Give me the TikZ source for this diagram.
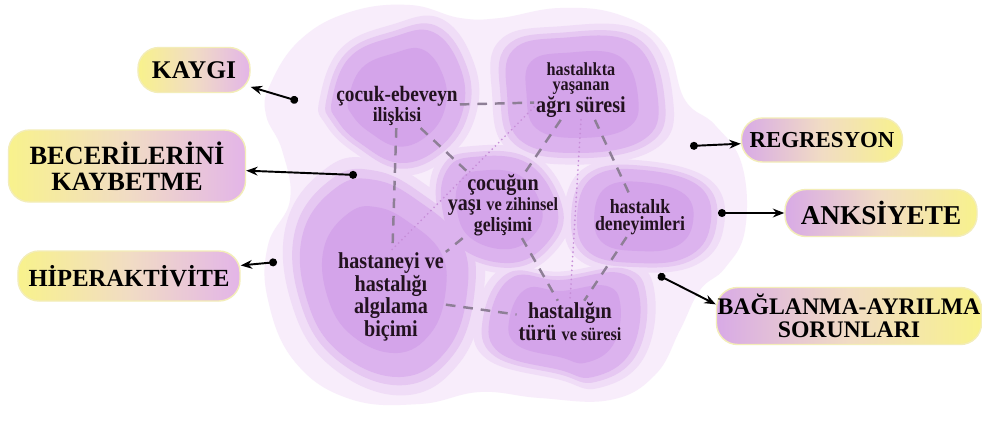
\documentclass[tikz,border=0pt]{standalone}
\usepackage{fontspec}
\setmainfont{Liberation Serif}
\newfontfamily\blobfont[FakeStretch=0.88]{Liberation Serif}
\usepackage{tikz}
\usetikzlibrary{arrows.meta,positioning}
\usepackage{xcolor}
\definecolor{lavA}{HTML}{F8EDFB}
\definecolor{lavB}{HTML}{F0DDF7}
\definecolor{lavC}{HTML}{E6C8F2}
\definecolor{lavD}{HTML}{DCB3EE}
\definecolor{lavE}{HTML}{D4A4EA}
\definecolor{dashgray}{HTML}{8E7F96}
\definecolor{dotpink}{HTML}{C78ED8}
\definecolor{lblyel}{HTML}{F8F28C}
\definecolor{lblpeach}{HTML}{F1DCC4}
\definecolor{lblpink}{HTML}{E3B5E8}
\definecolor{lblpurp}{HTML}{D8AAE6}
\definecolor{lblrim}{HTML}{F3EDB8}
\definecolor{inkdark}{HTML}{22121F}

\newcommand{\szL}{\fontsize{13}{11}\selectfont}
\newcommand{\szM}{\fontsize{11.5}{10}\selectfont}
\newcommand{\szS}{\fontsize{10.5}{9}\selectfont}
% one soft blob: x, y, style, points
\newcommand{\blob}[4]{\fill[shift={(#1,#2)},#3] plot[smooth cycle, tension=0.7] coordinates {#4};}

\begin{document}
\begin{tikzpicture}[x=0.2mm, y=-0.2mm,
    txt/.style={align=center, font=\blobfont\bfseries, text=inkdark, inner sep=1pt},
    lbl/.style={rectangle, rounded corners=12pt, draw=lblrim, line width=0.8pt,
                align=center, inner sep=0pt, text=black},
    lblL/.style={lbl, left color=lblyel, right color=lblpink, middle color=lblpeach},
    lblR/.style={lbl, left color=lblpurp, right color=lblyel, middle color=lblpeach},
    link/.style={dashgray, line width=1.4pt, dash pattern=on 5.5pt off 4.5pt},
    dotlink/.style={dotpink, line width=1.1pt, line cap=round, dash pattern=on 0pt off 2.6pt},
    arr/.style={{Circle[length=4.5pt]}-{Stealth[length=6.5pt,width=5pt]}, line width=1.1pt, black}
]
\fill[white] (0,0) rectangle (982,426);
\useasboundingbox (0,0) rectangle (982,426);

% background cloud
\fill[lavA] plot[smooth cycle, tension=0.7] coordinates {(270,85) (300,40) (350,12) (410,5)
  (460,18) (500,18) (560,8) (620,15) (665,45) (685,100) (715,125) (742,165) (745,230)
  (725,268) (700,290) (680,330) (655,375) (610,400) (540,398) (480,392) (420,404)
  (350,399) (295,362) (268,300) (268,245) (290,200) (282,150) (266,115)};

\foreach \s/\c in {1.2/lavB, 1.09/lavC, 1/lavD, 0.74/lavE} {
  \blob{395}{100}{fill=\c, scale=\s}{(-63,0) (-45,-43) (-2,-63) (38,-68) (65,-33) (68,10) (45,47) (5,63) (-35,43) (-58,20)}
  \blob{582}{95}{fill=\c, scale=\s}{(-69,-45) (-22,-57) (51,-52) (76,5) (61,45) (-5,58) (-62,45) (-75,-2)}
  \blob{498}{210}{fill=\c, scale=\s}{(-25,-53) (29,-47) (59,-3) (49,33) (12,53) (-38,37) (-56,-3) (-51,-40)}
  \blob{643}{217}{fill=\c, scale=\s}{(-50,-40) (0,-47) (57,-30) (67,10) (44,40) (-6,46) (-53,36) (-66,0)}
  \blob{385}{285}{fill=\c, scale=\s}{(-48,-98) (-10,-105) (32,-85) (75,-45) (82,8) (62,65) (15,92) (-45,68) (-78,15) (-82,-52)}
  \blob{565}{322}{fill=\c, scale=\s}{(-52,-45) (-5,-42) (55,-49) (75,-22) (65,31) (28,55) (-5,48) (-65,31) (-75,-5)}
}

% factors
\node[txt, font=\blobfont\bfseries\szM] (ce) at (397,106) {{\fontsize{12.5}{10}\selectfont çocuk-ebeveyn}\\ilişkisi};
\node[txt, font=\blobfont\bfseries\szS] (ag) at (581,90) {hastalıkta\\yaşanan\\{\szL ağrı süresi}};
\node[txt, font=\blobfont\bfseries\fontsize{13}{11.8}\selectfont] (cy) at (503,205) {çocuğun\\yaşı {\szS ve zihinsel}\\{\szM gelişimi}};
\node[txt, font=\blobfont\bfseries\szM] (hd) at (640,217) {hastalık\\deneyimleri};
\node[txt, font=\blobfont\bfseries\szL] (ha) at (391,297) {hastaneyi ve\\hastalığı\\algılama\\biçimi};
\node[txt, font=\blobfont\bfseries\szL] (ht) at (570,322) {hastalığın\\türü {\szS ve süresi}};

\draw[link] (ce) -- (ag.195);
\draw[link] (ce) -- (ha);
\draw[link] (ce) -- (cy);
\draw[link] (ag) -- (cy);
\draw[link] (cy) -- (ha);
\draw[link] (ag) -- (hd);
\draw[link] (cy) -- (ht);
\draw[link] (hd) -- (ht);
\draw[link] (ha) -- (ht);
\draw[dotlink] (ag.200) -- (ha.north);
\draw[dotlink] (ag.south) -- (ht.north);

% outcomes
\node[lblL, minimum width=22.4mm, minimum height=9mm, font=\fontsize{14.5}{14}\selectfont\bfseries] (kaygi) at (194,70) {KAYGI};
\node[lblL, minimum width=47.4mm, minimum height=14.4mm, font=\fontsize{15}{14.5}\selectfont\bfseries] (beceri) at (127,166) {BECERİLERİNİ\\KAYBETME};
\node[lblL, minimum width=44.4mm, minimum height=10mm, font=\fontsize{14}{13}\selectfont\bfseries] (hiper) at (129,276) {HİPERAKTİVİTE};
\node[lblR, minimum width=32.2mm, minimum height=8.8mm, font=\fontsize{13}{12}\selectfont\bfseries] (regr) at (822,140) {REGRESYON};
\node[lblR, minimum width=38.4mm, minimum height=9.4mm, font=\fontsize{15.5}{14}\selectfont\bfseries] (anks) at (881,213) {ANKSİYETE};
\node[lblR, minimum width=53mm, minimum height=11.4mm, font=\fontsize{13.5}{13}\selectfont\bfseries] (bag) at (849,316) {BAĞLANMA-AYRILMA\\SORUNLARI};

\coordinate (pkaygi) at (298,101);
\coordinate (pbeceri) at (357,175);
\coordinate (phiper) at (277,262);
\coordinate (pregr) at (690,146);
\coordinate (panks) at (718,213);
\coordinate (pbag) at (658,275);

\draw[arr] (pkaygi) -- (kaygi);
\draw[arr] (pbeceri) -- (beceri);
\draw[arr] (phiper) -- (hiper);
\draw[arr] (pregr) -- (regr);
\draw[arr] (panks) -- (anks);
\draw[arr] (pbag) -- (bag.175);
\end{tikzpicture}
\end{document}
